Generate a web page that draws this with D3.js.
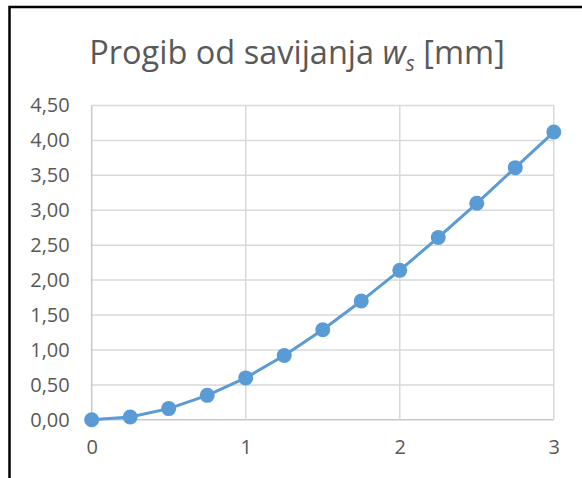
<!DOCTYPE html>
<html>
<head>
<meta charset="utf-8">
<script src="https://cdn.jsdelivr.net/npm/d3@7"></script>
<style>
  html, body { margin: 0; padding: 0; background: #fff; overflow: hidden; }
  svg { display: block; }
  text { font-family: "Open Sans", sans-serif; fill: #595959; }
</style>
</head>
<body>
<svg id="chart" width="582" height="478"></svg>
<script>
// Bending deflection w_s [mm] along the beam
const xValues = [0, 0.25, 0.5, 0.75, 1, 1.25, 1.5, 1.75, 2, 2.25, 2.5, 2.75, 3];
const wValues = [0, 0.04, 0.16, 0.35, 0.60, 0.92, 1.29, 1.70, 2.14, 2.61, 3.10, 3.61, 4.12];
const xTicks = [0, 1, 2, 3];
const yTicks = [0, 0.5, 1, 1.5, 2, 2.5, 3, 3.5, 4, 4.5];

const svg = d3.select("#chart");

// chart frame: only the top and left edges fall inside the view
svg.append("path")
  .attr("d", "M9.5,480 L9.5,7 L590,7")
  .attr("fill", "none")
  .attr("stroke", "#000")
  .attr("stroke-width", 2.5);

const plotL = 91.7, plotR = 553.8, plotT = 105.5, plotB = 419.8;

const x = d3.scaleLinear().domain([0, 3]).range([plotL, plotR]);
const y = d3.scaleLinear().domain([0, 4.5]).range([plotB, plotT]);

// horizontal gridlines
svg.append("g")
  .selectAll("line")
  .data(yTicks)
  .join("line")
  .attr("x1", plotL).attr("x2", plotR)
  .attr("y1", d => y(d)).attr("y2", d => y(d))
  .attr("stroke", d => d === 0 ? "#c8c8c8" : "#d9d9d9")
  .attr("stroke-width", 1.5);

// vertical gridlines
svg.append("g")
  .selectAll("line")
  .data(xTicks)
  .join("line")
  .attr("x1", d => x(d)).attr("x2", d => x(d))
  .attr("y1", plotT).attr("y2", plotB)
  .attr("stroke", d => d === 0 ? "#c8c8c8" : "#d9d9d9")
  .attr("stroke-width", 1.5);

const fmt = d => d3.format(".2f")(d).replace(".", ",");

// y-axis labels
const yAxis = d3.axisLeft(y).tickValues(yTicks).tickFormat(fmt).tickSize(0).tickPadding(22);
const gy = svg.append("g").attr("transform", `translate(${plotL},0)`).call(yAxis);
gy.select(".domain").remove();
gy.selectAll("text")
  .attr("font-size", 20)
  .attr("font-family", "'Open Sans', sans-serif")
  .attr("fill", "#595959");

// x-axis labels
const xAxis = d3.axisBottom(x).tickValues(xTicks).tickFormat(d3.format("d")).tickSize(0).tickPadding(20);
const gx = svg.append("g").attr("transform", `translate(0,${plotB})`).call(xAxis);
gx.select(".domain").remove();
gx.selectAll("text")
  .attr("font-size", 20)
  .attr("font-family", "'Open Sans', sans-serif")
  .attr("fill", "#595959");

// series line
const data = xValues.map((v, i) => ({ x: v, w: wValues[i] }));
svg.append("path")
  .datum(data)
  .attr("fill", "none")
  .attr("stroke", "#5b9bd5")
  .attr("stroke-width", 3)
  .attr("stroke-linejoin", "round")
  .attr("d", d3.line().x(d => x(d.x)).y(d => y(d.w)));

// markers
svg.append("g")
  .selectAll("circle")
  .data(data)
  .join("circle")
  .attr("cx", d => x(d.x))
  .attr("cy", d => y(d.w))
  .attr("r", 7.5)
  .attr("fill", "#5b9bd5");

// title
const title = svg.append("text")
  .attr("x", 297)
  .attr("y", 64)
  .attr("text-anchor", "middle")
  .attr("font-size", 32.5);
title.append("tspan").text("Progib od savijanja ");
title.append("tspan").attr("font-style", "italic").text("w");
title.append("tspan").attr("font-style", "italic").attr("font-size", 21).attr("dy", 7).text("s");
title.append("tspan").attr("dy", -7).text(" [mm]");
</script>
</body>
</html>
